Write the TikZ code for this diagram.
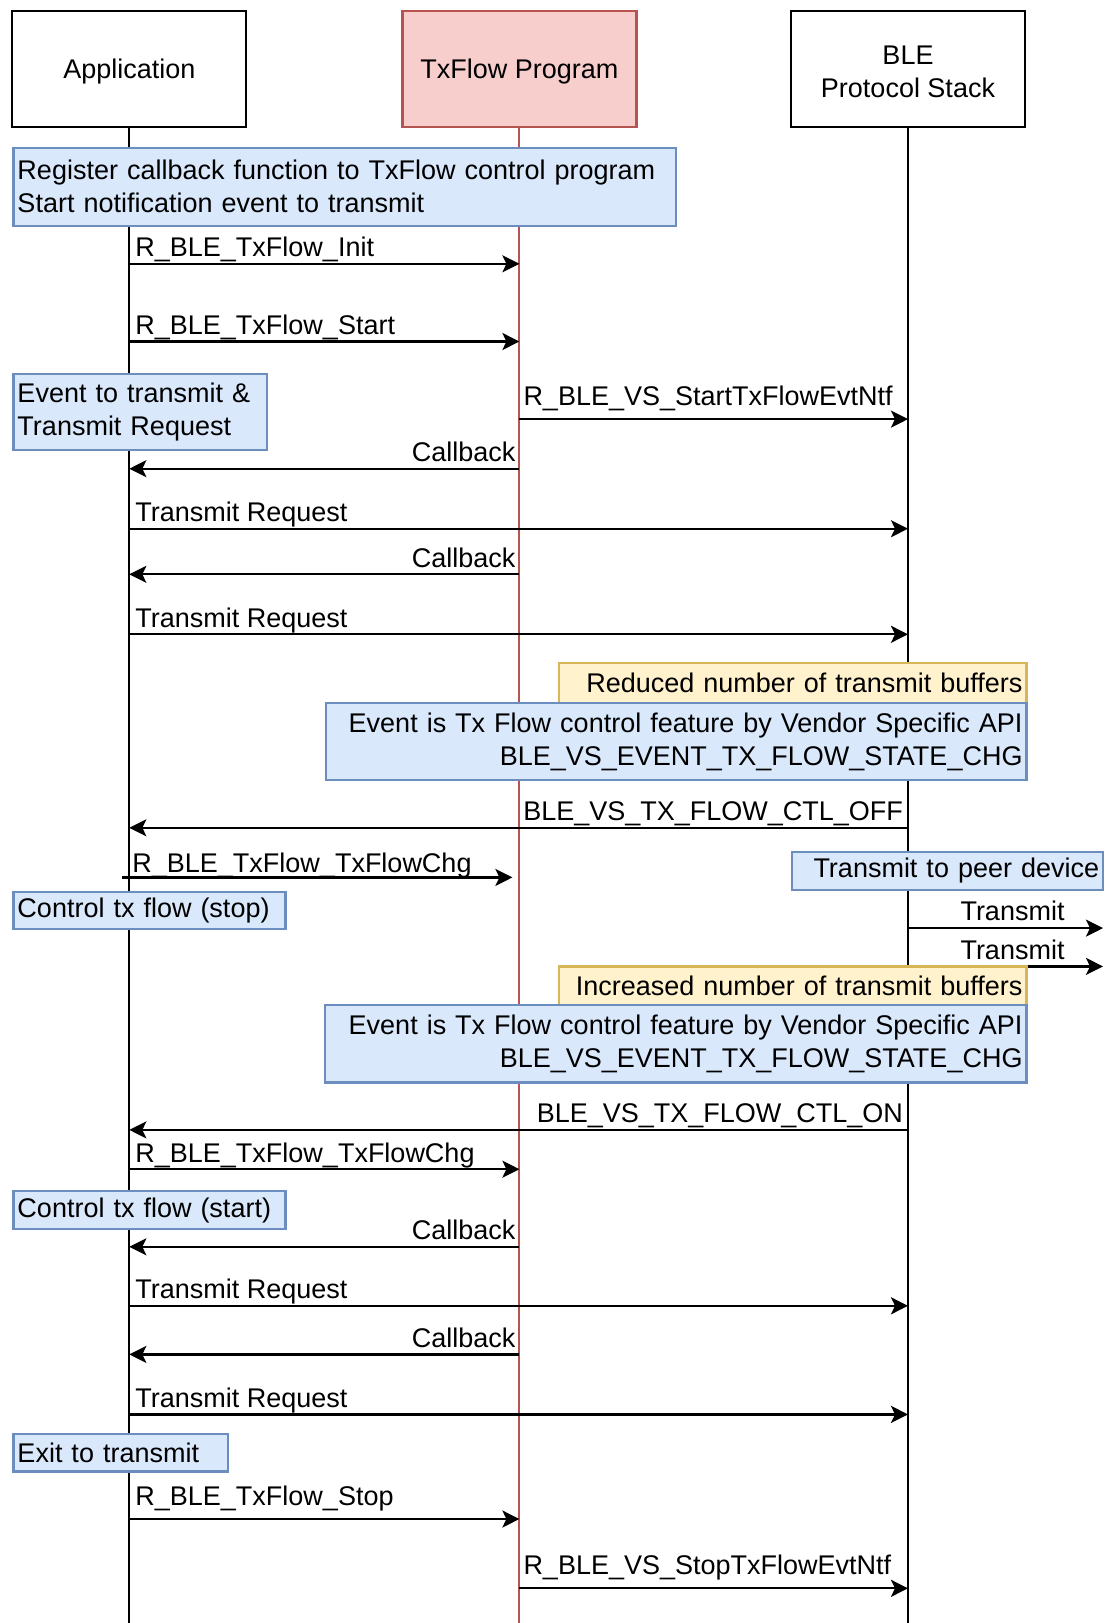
\documentclass[tikz,border=0pt]{standalone}
\usepackage{fontspec}
\setmainfont{Liberation Sans}
\usepackage{tikz}
\usetikzlibrary{arrows.meta,calc}
\definecolor{txfill}{HTML}{F8CECC}
\definecolor{txline}{HTML}{B85450}
\definecolor{notefill}{HTML}{DAE8FC}
\definecolor{noteline}{HTML}{6C8EBF}
\definecolor{yelfill}{HTML}{FFF2CC}
\definecolor{yelline}{HTML}{D6B656}
\begin{document}
\begin{tikzpicture}[
  x=0.5pt,y=-0.5pt,
  font=\fontsize{13.5}{16.5}\selectfont,
  head/.style={draw,line width=1.1pt,minimum width=117pt,minimum height=58pt,inner sep=0pt,
    label={[align=center,yshift=-1.3pt]center:#1}},
  life/.style={line width=1pt},
  msg/.style={-{Stealth[length=8.5pt,width=8.5pt,inset=2pt]},line width=1.1pt},
  note/.style={draw=noteline,fill=notefill,line width=1.1pt,inner xsep=2pt,inner ysep=0pt,anchor=north west},
  warn/.style={note,draw=yelline,fill=yelfill},
  lblL/.style={pos=0,anchor=base west,inner sep=0pt,xshift=2.5pt,yshift=3.6pt},
  lblR/.style={pos=0,anchor=base east,inner sep=0pt,xshift=-1.5pt,yshift=3.6pt}
]
\useasboundingbox (0,0) rectangle (1104,1623);
\node[head={Application}] (app) at (129.35,69.35) {};
\node[head={TxFlow Program},fill=txfill,draw=txline] (txf) at (519.4,69.35) {};
\node[head={BLE\\Protocol Stack}] (ble) at (908,69.35) {};
\coordinate (out1) at (1103,928.1);
\coordinate (out2) at (1103,966.4);

\draw[life] (app.south) -- (app |- 0,1623);
\draw[life,draw=txline] (txf.south) -- (txf |- 0,1623);
\draw[life] (ble.south) -- (ble |- 0,1623);

\draw[msg] (app |- 0,263.8) -- node[lblL] {R\_BLE\_TxFlow\_Init} (txf |- 0,263.8);
\draw[msg] (app |- 0,341.5) -- node[lblL] {R\_BLE\_TxFlow\_Start} (txf |- 0,341.5);
\draw[msg] (txf |- 0,419.1) -- node[lblL,xshift=-1pt,yshift=3.3pt] {R\_BLE\_VS\_StartTxFlowEvtNtf} (ble |- 0,419.1);
\draw[msg] (txf |- 0,468.7) -- node[lblR] {Callback} (app |- 0,468.7);
\draw[msg] (app |- 0,528.7) -- node[lblL] {Transmit Request} (ble |- 0,528.7);
\draw[msg] (txf |- 0,574.3) -- node[lblR] {Callback} (app |- 0,574.3);
\draw[msg] (app |- 0,634.3) -- node[lblL] {Transmit Request} (ble |- 0,634.3);
\draw[msg] (ble |- 0,827.8) -- node[lblR,xshift=-0.5pt] {BLE\_VS\_TX\_FLOW\_CTL\_OFF} (app |- 0,827.8);
\draw[msg] ($(app |- 0,877.4)+(-7,0)$) -- node[lblL,xshift=2pt,yshift=-1pt] {R\_BLE\_TxFlow\_TxFlowChg} ($(txf |- 0,877.4)+(-7,0)$);
\draw[msg] (ble |- out1) -- node[midway,anchor=base,inner sep=0pt,xshift=3.5pt,yshift=3.6pt] {Transmit} (out1);
\draw[msg] (ble |- out2) -- node[midway,anchor=base,inner sep=0pt,xshift=3.5pt,yshift=3.6pt] {Transmit} (out2);
\draw[msg] (ble |- 0,1129.9) -- node[lblR,xshift=-0.5pt] {BLE\_VS\_TX\_FLOW\_CTL\_ON} (app |- 0,1129.9);
\draw[msg] (app |- 0,1169.2) -- node[lblL] {R\_BLE\_TxFlow\_TxFlowChg} (txf |- 0,1169.2);
\draw[msg] (txf |- 0,1246.8) -- node[lblR] {Callback} (app |- 0,1246.8);
\draw[msg] (app |- 0,1305.8) -- node[lblL] {Transmit Request} (ble |- 0,1305.8);
\draw[msg] (txf |- 0,1354.4) -- node[lblR] {Callback} (app |- 0,1354.4);
\draw[msg] (app |- 0,1414.4) -- node[lblL] {Transmit Request} (ble |- 0,1414.4);
\draw[msg] (app |- 0,1519) -- node[lblL,yshift=3.3pt] {R\_BLE\_TxFlow\_Stop} (txf |- 0,1519);
\draw[msg] (txf |- 0,1588.3) -- node[lblL,xshift=-1pt,yshift=3.3pt] {R\_BLE\_VS\_StopTxFlowEvtNtf} (ble |- 0,1588.3);

\node[note,text width=327.1pt,minimum height=38.8pt,align=left] (regnote) at (12.4,146.9) {Register callback function to TxFlow control program\\Start notification event to transmit};
\node[note,text width=122.75pt,minimum height=38.3pt,align=left] (evtnote) at (12.4,372.5) {Event to transmit \&\\Transmit Request};
\node[warn,text width=229.85pt,minimum height=19.65pt,align=right] (reducenote) at (557.7,662.2) {Reduced number of transmit buffers};
\node[note,text width=346.25pt,minimum height=38.8pt,align=right] (offnote) at (324.9,701.5) {Event is Tx Flow control feature by Vendor Specific API\\BLE\_VS\_EVENT\_TX\_FLOW\_STATE\_CHG};
\node[note,text width=151.75pt,minimum height=19.15pt,align=right] (peernote) at (790.5,850.5) {Transmit to peer device};
\node[note,text width=132pt,minimum height=18.6pt,align=left] (stopnote) at (12.4,890.9) {Control tx flow (stop)};
\node[warn,text width=229.85pt,minimum height=19.15pt,align=right] (increasenote) at (557.7,965.4) {Increased number of transmit buffers};
\node[note,text width=346.75pt,minimum height=38.8pt,align=right] (onnote) at (323.9,1003.7) {Event is Tx Flow control feature by Vendor Specific API\\BLE\_VS\_EVENT\_TX\_FLOW\_STATE\_CHG};
\node[note,text width=132pt,minimum height=19.15pt,align=left] (startnote) at (12.4,1189.9) {Control tx flow (start)};
\node[note,text width=103.1pt,minimum height=18.6pt,align=left] (exitnote) at (12.4,1433.1) {Exit to transmit};
\end{tikzpicture}
\end{document}
